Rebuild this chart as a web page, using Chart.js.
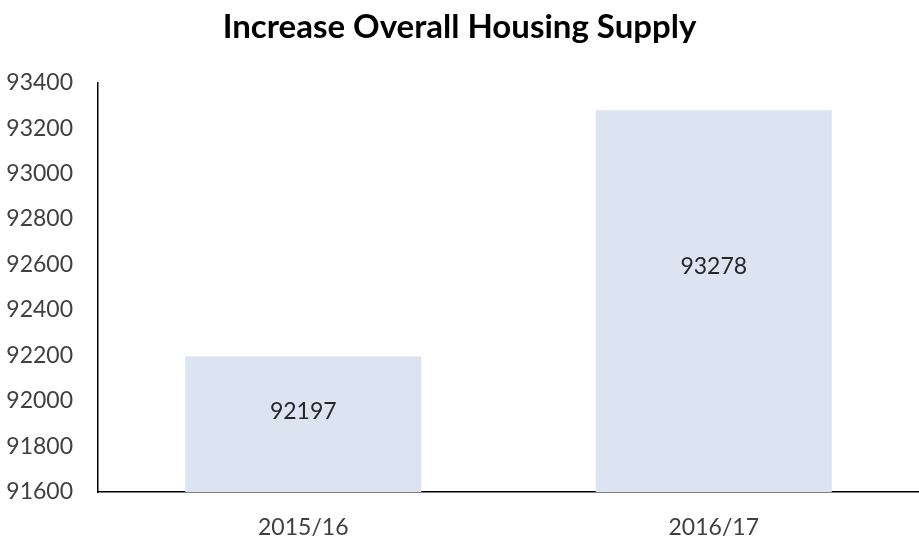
<!DOCTYPE html>
<html>
<head>
<meta charset="utf-8">
<script src="https://cdn.jsdelivr.net/npm/chart.js@4/dist/chart.umd.min.js"></script>
<style>
html,body{margin:0;padding:0;background:#fff;}
#wrap{width:919px;height:541px;position:relative;}
</style>
</head>
<body>
<div id="wrap"><canvas id="c" width="919" height="541"></canvas></div>
<script>
const categories = ["2015/16", "2016/17"];
const housingSupply = [92197, 93278];
const yTickMin = 91600;
const yTickMax = 93400;
const yTickStep = 200;
const chartTitle = "Increase Overall Housing Supply";

const FONT = 'Lato, "Open Sans", sans-serif';

const barLabels = {
  id: 'barLabels',
  afterDraw(chart) {
    const ctx = chart.ctx;
    const meta = chart.getDatasetMeta(0);
    const yScale = chart.scales.y;
    ctx.save();
    ctx.font = '23px ' + FONT;
    ctx.fillStyle = '#262626';
    ctx.textAlign = 'center';
    ctx.textBaseline = 'middle';
    meta.data.forEach((bar, i) => {
      const top = yScale.getPixelForValue(housingSupply[i]);
      const bottom = yScale.bottom;
      const y = top + (bottom - top) * 0.41;
      ctx.fillText(String(housingSupply[i]), bar.x, y);
    });
    ctx.restore();
  }
};

new Chart(document.getElementById('c'), {
  type: 'bar',
  data: {
    labels: categories,
    datasets: [{
      data: housingSupply,
      backgroundColor: '#dbe4f0',
      borderWidth: 0,
      categoryPercentage: 0.575,
      barPercentage: 1.0
    }]
  },
  options: {
    responsive: false,
    animation: false,
    layout: { padding: { left: 0, right: 0, top: 0, bottom: 0 } },
    plugins: {
      legend: { display: false },
      tooltip: { enabled: false },
      title: {
        display: true,
        text: chartTitle,
        color: '#000',
        font: { family: FONT, size: 33, weight: 'bold', lineHeight: 1.2 },
        padding: { top: 8, bottom: 35 }
      }
    },
    scales: {
      x: {
        grid: { display: false, drawTicks: false },
        border: { display: true, color: '#000', width: 1.5 },
        ticks: {
          color: '#404040',
          font: { family: FONT, size: 23 },
          padding: 22
        },
        afterFit(scale) { scale.height = 49; }
      },
      y: {
        min: yTickMin,
        max: yTickMax,
        grid: { display: false, drawTicks: false },
        border: { display: true, color: '#000', width: 1.5 },
        ticks: {
          stepSize: yTickStep,
          color: '#404040',
          font: { family: FONT, size: 23 },
          padding: 25,
          callback: v => String(v)
        },
        afterFit(scale) { scale.width = 98; }
      }
    }
  },
  plugins: [barLabels]
});
</script>
</body>
</html>
